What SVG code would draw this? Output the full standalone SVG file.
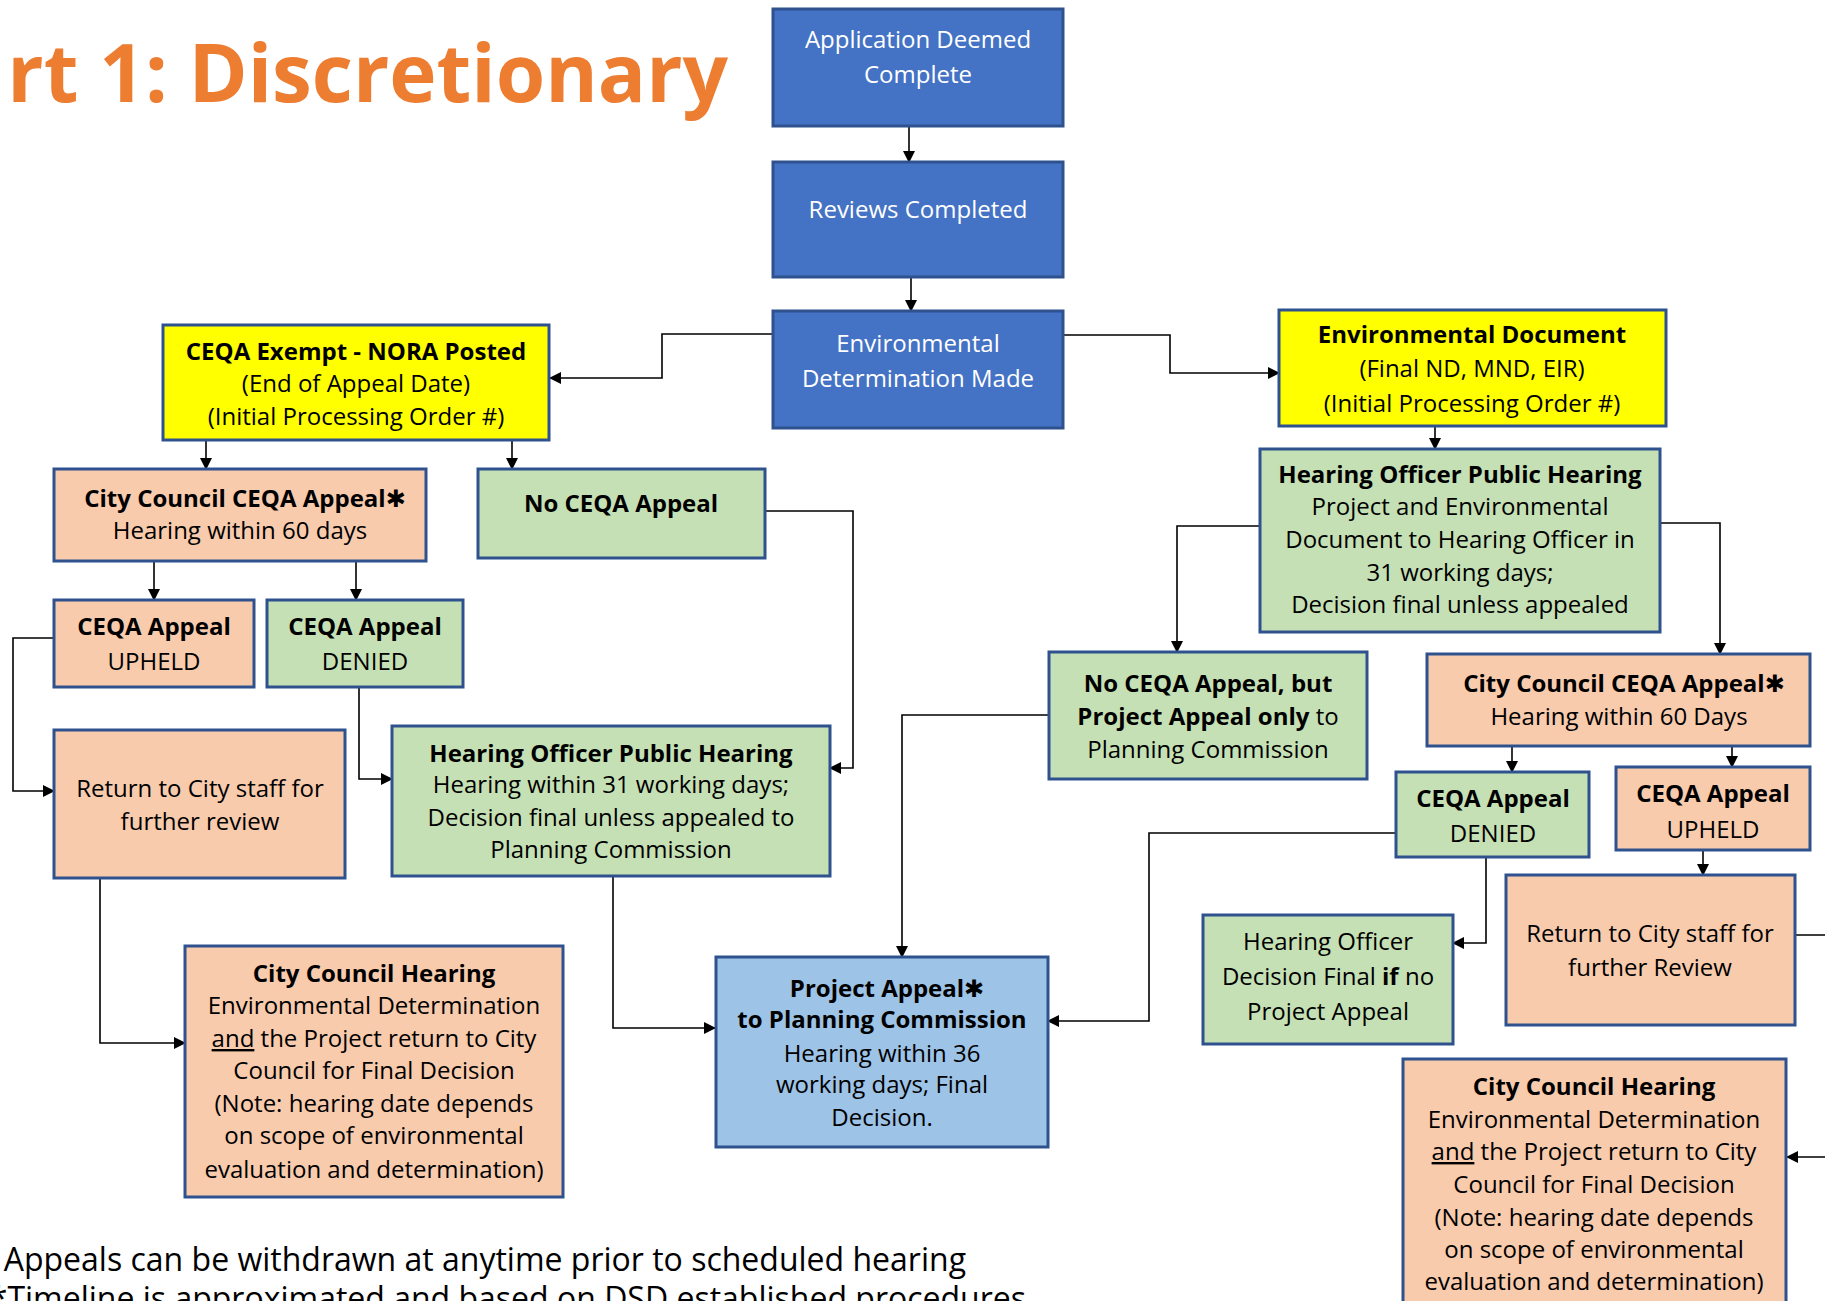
<svg xmlns="http://www.w3.org/2000/svg" width="1825" height="1301" viewBox="0 0 1825 1301">
<style>
text{font-family:"Open Sans","Noto Sans","DejaVu Sans",sans-serif;font-size:24px;fill:#000;text-anchor:middle}
.b{font-weight:bold}
.w{fill:#fff}
.box{stroke:#2F528F;stroke-width:3}
.blue{fill:#4472C4}
.yel{fill:#FFFF00}
.peach{fill:#F8CBAD}
.green{fill:#C5E0B4}
.lblue{fill:#9DC3E6}
.ast{font-family:"DejaVu Sans",sans-serif;font-weight:bold}
.foot{font-size:32px;text-anchor:end}
#connectors path{fill:none;stroke:#000;stroke-width:1.6}
</style>
<defs>
<marker id="ah" markerUnits="userSpaceOnUse" markerWidth="12" markerHeight="12" refX="11" refY="6" orient="auto">
<path d="M0,0 L12,6 L0,12 z" fill="#000"/>
</marker>
</defs>
<rect width="1825" height="1301" fill="#fff"/>
<text x="728" y="102" style="font-size:80px;font-weight:bold;fill:#ED7D31;text-anchor:end">rt 1: Discretionary</text>

<g id="connectors">
<path d="M909,126 V162" marker-end="url(#ah)"/>
<path d="M911,277 V311" marker-end="url(#ah)"/>
<path d="M773,334 H662 V378 H550" marker-end="url(#ah)"/>
<path d="M1063,335 H1170 V373 H1279" marker-end="url(#ah)"/>
<path d="M1435,427 V449" marker-end="url(#ah)"/>
<path d="M1260,526 H1177 V652" marker-end="url(#ah)"/>
<path d="M1660,523 H1720 V654" marker-end="url(#ah)"/>
<path d="M1049,715 H902 V957" marker-end="url(#ah)"/>
<path d="M1512,746 V772" marker-end="url(#ah)"/>
<path d="M1732,746 V767" marker-end="url(#ah)"/>
<path d="M1703,850 V875" marker-end="url(#ah)"/>
<path d="M1486,857 V943 H1453" marker-end="url(#ah)"/>
<path d="M1396,833 H1149 V1021 H1048" marker-end="url(#ah)"/>
<path d="M1795,935 H1840 V1157 H1787" marker-end="url(#ah)"/>
<path d="M206,441 V469" marker-end="url(#ah)"/>
<path d="M512,441 V469" marker-end="url(#ah)"/>
<path d="M765,511 H853 V768 H830" marker-end="url(#ah)"/>
<path d="M154,561 V600" marker-end="url(#ah)"/>
<path d="M356,561 V600" marker-end="url(#ah)"/>
<path d="M54,638 H13 V791 H54" marker-end="url(#ah)"/>
<path d="M359,687 V779 H392" marker-end="url(#ah)"/>
<path d="M100,878 V1043 H185" marker-end="url(#ah)"/>
<path d="M613,876 V1028 H715" marker-end="url(#ah)"/>
</g>

<g id="app-complete">
<rect class="box blue" x="773" y="9" width="290" height="117"/>
<text class="w" x="918" y="48">Application Deemed</text>
<text class="w" x="918" y="83">Complete</text>
</g>
<g id="reviews">
<rect class="box blue" x="773" y="162" width="290" height="115"/>
<text class="w" x="918" y="218">Reviews Completed</text>
</g>
<g id="env-determination">
<rect class="box blue" x="773" y="311" width="290" height="117"/>
<text class="w" x="918" y="352">Environmental</text>
<text class="w" x="918" y="387">Determination Made</text>
</g>
<g id="ceqa-exempt">
<rect class="box yel" x="163" y="325" width="386" height="115"/>
<text class="b" x="356" y="360">CEQA Exempt - NORA Posted</text>
<text x="356" y="392">(End of Appeal Date)</text>
<text x="356" y="425">(Initial Processing Order #)</text>
</g>
<g id="env-document">
<rect class="box yel" x="1279" y="310" width="387" height="116"/>
<text class="b" x="1472" y="343">Environmental Document</text>
<text x="1472" y="377">(Final ND, MND, EIR)</text>
<text x="1472" y="412">(Initial Processing Order #)</text>
</g>
<g id="ho-hearing-right">
<rect class="box green" x="1260" y="449" width="400" height="183"/>
<text class="b" x="1460" y="483">Hearing Officer Public Hearing</text>
<text x="1460" y="515">Project and Environmental</text>
<text x="1460" y="548">Document to Hearing Officer in</text>
<text x="1460" y="581">31 working days;</text>
<text x="1460" y="613">Decision final unless appealed</text>
</g>
<g id="no-ceqa-but-project">
<rect class="box green" x="1049" y="652" width="318" height="127"/>
<text class="b" x="1208" y="692">No CEQA Appeal, but</text>
<text x="1208" y="725"><tspan class="b">Project Appeal only</tspan> to</text>
<text x="1208" y="758">Planning Commission</text>
</g>
<g id="cc-ceqa-appeal-right">
<rect class="box peach" x="1427" y="654" width="383" height="92"/>
<text class="b" x="1624" y="692">City Council CEQA Appeal<tspan class="ast">✱</tspan></text>
<text x="1619" y="725">Hearing within 60 Days</text>
</g>
<g id="denied-right">
<rect class="box green" x="1396" y="772" width="193" height="85"/>
<text class="b" x="1493" y="807">CEQA Appeal</text>
<text x="1493" y="842">DENIED</text>
</g>
<g id="upheld-right">
<rect class="box peach" x="1616" y="767" width="194" height="83"/>
<text class="b" x="1713" y="802">CEQA Appeal</text>
<text x="1713" y="838">UPHELD</text>
</g>
<g id="return-right">
<rect class="box peach" x="1506" y="875" width="289" height="150"/>
<text x="1650" y="942">Return to City staff for</text>
<text x="1650" y="976">further Review</text>
</g>
<g id="ho-decision-final">
<rect class="box green" x="1203" y="915" width="250" height="129"/>
<text x="1328" y="950">Hearing Officer</text>
<text x="1328" y="985">Decision Final <tspan class="b">if</tspan> no</text>
<text x="1328" y="1020">Project Appeal</text>
</g>
<g id="project-appeal">
<rect class="box lblue" x="716" y="957" width="332" height="190"/>
<text class="b" x="887" y="997">Project Appeal<tspan class="ast">✱</tspan></text>
<text class="b" x="882" y="1028">to Planning Commission</text>
<text x="882" y="1062">Hearing within 36</text>
<text x="882" y="1093">working days; Final</text>
<text x="882" y="1126">Decision.</text>
</g>
<g id="cc-hearing-right">
<rect class="box peach" x="1403" y="1059" width="383" height="260"/>
<text class="b" x="1594" y="1095">City Council Hearing</text>
<text x="1594" y="1128">Environmental Determination</text>
<text x="1594" y="1160"><tspan text-decoration="underline">and</tspan> the Project return to City</text>
<text x="1594" y="1193">Council for Final Decision</text>
<text x="1594" y="1226">(Note: hearing date depends</text>
<text x="1594" y="1258">on scope of environmental</text>
<text x="1594" y="1290">evaluation and determination)</text>
</g>
<g id="no-ceqa-appeal">
<rect class="box green" x="478" y="469" width="287" height="89"/>
<text class="b" x="621" y="512">No CEQA Appeal</text>
</g>
<g id="cc-ceqa-appeal-left">
<rect class="box peach" x="54" y="469" width="372" height="92"/>
<text class="b" x="245" y="507">City Council CEQA Appeal<tspan class="ast">✱</tspan></text>
<text x="240" y="539">Hearing within 60 days</text>
</g>
<g id="upheld-left">
<rect class="box peach" x="54" y="600" width="200" height="87"/>
<text class="b" x="154" y="635">CEQA Appeal</text>
<text x="154" y="670">UPHELD</text>
</g>
<g id="denied-left">
<rect class="box green" x="267" y="600" width="196" height="87"/>
<text class="b" x="365" y="635">CEQA Appeal</text>
<text x="365" y="670">DENIED</text>
</g>
<g id="return-left">
<rect class="box peach" x="54" y="730" width="291" height="148"/>
<text x="200" y="797">Return to City staff for</text>
<text x="200" y="830">further review</text>
</g>
<g id="ho-hearing-left">
<rect class="box green" x="392" y="726" width="438" height="150"/>
<text class="b" x="611" y="762">Hearing Officer Public Hearing</text>
<text x="611" y="793">Hearing within 31 working days;</text>
<text x="611" y="826">Decision final unless appealed to</text>
<text x="611" y="858">Planning Commission</text>
</g>
<g id="cc-hearing-left">
<rect class="box peach" x="185" y="946" width="378" height="251"/>
<text class="b" x="374" y="982">City Council Hearing</text>
<text x="374" y="1014">Environmental Determination</text>
<text x="374" y="1047"><tspan text-decoration="underline">and</tspan> the Project return to City</text>
<text x="374" y="1079">Council for Final Decision</text>
<text x="374" y="1112">(Note: hearing date depends</text>
<text x="374" y="1144">on scope of environmental</text>
<text x="374" y="1178">evaluation and determination)</text>
</g>
<g id="footer">
<text class="foot" x="966" y="1271">Appeals can be withdrawn at anytime prior to scheduled hearing</text>
<text class="foot" x="1026" y="1310">*Timeline is approximated and based on DSD established procedures</text>
</g>
</svg>
